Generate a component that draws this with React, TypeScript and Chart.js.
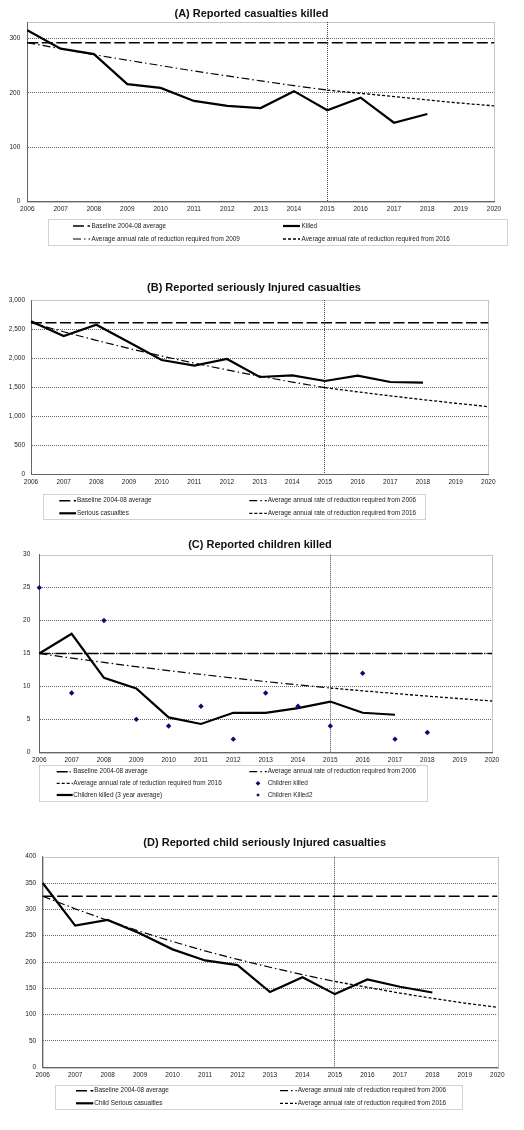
import React, { useEffect, useRef } from "react";
import { Chart, registerables } from "chart.js";

Chart.register(...registerables);
Chart.defaults.font.family = '"Liberation Sans", Arial, sans-serif';

const YEARS = ["2006", "2007", "2008", "2009", "2010", "2011", "2012", "2013", "2014", "2015", "2016", "2017", "2018", "2019", "2020"];
const MARK_YEAR = "2015";

// (A) Reported casualties killed
const A_Y_TICKS = [0, 100, 200, 300];
const A_KILLED = [315, 281, 271, 216, 209, 185, 176, 172, 203, 168, 191, 145, 161, null, null];
const A_BASELINE = [292, 292, 292, 292, 292, 292, 292, 292, 292, 292, 292, 292, 292, 292, 292];
const A_TARGET_2009 = [292, 281, 270, 260, 250, 240, 231, 222, 213, 205, null, null, null, null, null];
const A_TARGET_2016 = [null, null, null, null, null, null, null, null, null, 205, 199, 193, 187, 181, 176];

// (B) Reported seriously injured casualties
const B_Y_TICKS = [0, 500, 1000, 1500, 2000, 2500, 3000];
const B_SERIOUS = [2633, 2380, 2575, 2272, 1967, 1870, 1985, 1675, 1703, 1606, 1698, 1589, 1577, null, null];
const B_BASELINE = [2610, 2610, 2610, 2610, 2610, 2610, 2610, 2610, 2610, 2610, 2610, 2610, 2610, 2610, 2610];
const B_TARGET_2006 = [2610, 2453, 2305, 2166, 2035, 1913, 1797, 1689, 1587, 1491, null, null, null, null, null];
const B_TARGET_2016 = [null, null, null, null, null, null, null, null, null, 1491, 1419, 1350, 1285, 1223, 1164];

// (C) Reported children killed
const C_Y_TICKS = [0, 5, 10, 15, 20, 25, 30];
const C_KILLED = [25, 9, 20, 5, 4, 7, 2, 9, 7, 4, 12, 2, null, null, null];
const C_KILLED2 = [null, null, null, null, null, null, null, null, null, null, null, null, 3, null, null];
const C_AVG3 = [15, 18, 11.3, 9.7, 5.3, 4.3, 6, 6, 6.7, 7.7, 6, 5.7, null, null, null];
const C_BASELINE = [15, 15, 15, 15, 15, 15, 15, 15, 15, 15, 15, 15, 15, 15, 15];
const C_TARGET_2006 = [15, 14.3, 13.64, 13.0, 12.4, 11.82, 11.27, 10.74, 10.24, 9.76, null, null, null, null, null];
const C_TARGET_2016 = [null, null, null, null, null, null, null, null, null, 9.76, 9.33, 8.92, 8.53, 8.15, 7.79];

// (D) Reported child seriously injured casualties
const D_Y_TICKS = [0, 50, 100, 150, 200, 250, 300, 350, 400];
const D_SERIOUS = [350, 269, 280, 254, 224, 203, 194, 143, 171, 139, 167, 153, 142, null, null];
const D_BASELINE = [325, 325, 325, 325, 325, 325, 325, 325, 325, 325, 325, 325, 325, 325, 325];
const D_TARGET_2006 = [325, 301, 279, 258, 239, 221, 205, 190, 176, 163, null, null, null, null, null];
const D_TARGET_2016 = [null, null, null, null, null, null, null, null, null, 163, 152, 141, 131, 122, 114];

const BASELINE_LABEL = "Baseline 2004-08 average";
const RATE_2006 = "Average annual rate of reduction required from 2006";
const RATE_2009 = "Average annual rate of reduction required from 2009";
const RATE_2016 = "Average annual rate of reduction required from 2016";

const main = (label: string, data: any[]) => ({
  label, data, borderColor: "#000", backgroundColor: "#000", borderWidth: 2.2,
  pointRadius: 0, tension: 0, fill: false,
});
const baseline = (label: string, data: any[], dash = [11, 3.5]) => ({
  label, data, borderColor: "#000", backgroundColor: "#000", borderWidth: 1.5,
  borderDash: dash, pointRadius: 0, tension: 0, fill: false,
});
const dashDot = (label: string, data: any[]) => ({
  label, data, borderColor: "#000", backgroundColor: "#000", borderWidth: 1.2,
  borderDash: [8, 3, 1.5, 3], pointRadius: 0, tension: 0, fill: false,
});
const dotted = (label: string, data: any[]) => ({
  label, data, borderColor: "#000", backgroundColor: "#000", borderWidth: 1.3,
  borderDash: [3, 2], pointRadius: 0, tension: 0, fill: false,
});
const markers = (label: string, data: any[]) => ({
  label, data, showLine: false, pointStyle: "rectRot", pointRadius: 2.7,
  backgroundColor: "#0b0b70", borderColor: "#0b0b70", borderWidth: 0,
});

type Spec = {
  top: number; height: number; title: string; titleX: number; titleY: number;
  plot: { l: number; t: number; r: number; b: number };
  yMax: number; yTicks: number[]; tickPad: number; datasets: any[];
  legend: { box: number[]; rows: number[]; cols: number[][]; items: any[][] };
};

const SPECS: Spec[] = [
  {
    top: 0, height: 250, title: "(A) Reported casualties killed", titleX: 251.5, titleY: 14,
    plot: { l: 27.3, t: 22, r: 494, b: 201.7 }, yMax: 330, yTicks: A_Y_TICKS, tickPad: 7,
    datasets: [
      main("Killed", A_KILLED),
      baseline(BASELINE_LABEL, A_BASELINE),
      dashDot(RATE_2009, A_TARGET_2009),
      dotted(RATE_2016, A_TARGET_2016),
    ],
    legend: {
      box: [48, 219, 507, 245], rows: [226, 239],
      cols: [[73, 90, 91.5], [283, 300, 301.5]],
      items: [[1, 0, 0], [0, 1, 0], [2, 0, 1], [3, 1, 1]],
    },
  },
  {
    top: 250, height: 275, title: "(B) Reported seriously Injured casualties", titleX: 254, titleY: 38.3,
    plot: { l: 31, t: 50, r: 488.3, b: 224.3 }, yMax: 3000, yTicks: B_Y_TICKS, tickPad: 6,
    datasets: [
      main("Serious casualties", B_SERIOUS),
      baseline(BASELINE_LABEL, B_BASELINE),
      dashDot(RATE_2006, B_TARGET_2006),
      dotted(RATE_2016, B_TARGET_2016),
    ],
    legend: {
      box: [43.3, 244.3, 425, 269.3], rows: [250.7, 263.3],
      cols: [[59.3, 76, 77], [249.3, 266.7, 267.7]],
      items: [[1, 0, 0], [2, 1, 0], [0, 0, 1], [3, 1, 1]],
    },
  },
  {
    top: 525, height: 285, title: "(C) Reported children killed", titleX: 260, titleY: 20,
    plot: { l: 39.3, t: 29.7, r: 492, b: 227.3 }, yMax: 30, yTicks: C_Y_TICKS, tickPad: 9,
    datasets: [
      markers("Children killed", C_KILLED),
      markers("Children Killed2", C_KILLED2),
      main("Children killed (3 year average)", C_AVG3),
      baseline(BASELINE_LABEL, C_BASELINE, [11, 2, 1, 2]),
      dashDot(RATE_2006, C_TARGET_2006),
      dotted(RATE_2016, C_TARGET_2016),
    ],
    legend: {
      box: [39.3, 240, 427.3, 275.7], rows: [246.7, 258.3, 270],
      cols: [[56.7, 72.7, 73.3], [249.3, 266.7, 267.7]],
      items: [[3, 0, 0], [4, 1, 0], [5, 0, 1], [0, 1, 1], [2, 0, 2], [1, 1, 2, "small"]],
    },
  },
  {
    top: 810, height: 320, title: "(D) Reported child seriously Injured casualties", titleX: 264.7, titleY: 33.3,
    plot: { l: 42.7, t: 46.7, r: 497.3, b: 257.3 }, yMax: 400, yTicks: D_Y_TICKS, tickPad: 6.5,
    datasets: [
      main("Child Serious casualties", D_SERIOUS),
      baseline(BASELINE_LABEL, D_BASELINE),
      dashDot(RATE_2006, D_TARGET_2006),
      dotted(RATE_2016, D_TARGET_2016),
    ],
    legend: {
      box: [55, 275, 461.7, 299], rows: [280.7, 293.3],
      cols: [[76, 93.3, 94.3], [280, 296.7, 297.7]],
      items: [[1, 0, 0], [2, 1, 0], [0, 0, 1], [3, 1, 1]],
    },
  },
];

const W = 524;
const Y_W = 24;
const X_H = 14;
const FONT_FAMILY = '"Liberation Sans", Arial, sans-serif';

function Panel({ spec }: { spec: Spec }) {
  const ref = useRef<HTMLCanvasElement>(null);
  useEffect(() => {
    const canvas = ref.current!;
    const { plot, height } = spec;
    const markIndex = YEARS.indexOf(MARK_YEAR);
    const overlay = {
      id: "overlay",
      beforeDraw(chart: any) {
        const ctx = chart.ctx;
        const a = chart.chartArea;
        ctx.save();
        ctx.strokeStyle = "#c4c4c4";
        ctx.lineWidth = 1;
        ctx.strokeRect(Math.round(a.left) + 0.5, Math.round(a.top) + 0.5, Math.round(a.right - a.left), Math.round(a.bottom - a.top));
        ctx.restore();
      },
      afterDraw(chart: any) {
        const ctx = chart.ctx;
        ctx.save();
        ctx.fillStyle = "#111";
        ctx.font = `bold 11px ${FONT_FAMILY}`;
        ctx.textAlign = "center";
        ctx.textBaseline = "middle";
        ctx.fillText(spec.title, spec.titleX, spec.titleY);

        const lg = spec.legend;
        const [x1, y1, x2, y2] = lg.box;
        ctx.strokeStyle = "#d2d2d2";
        ctx.lineWidth = 1;
        ctx.strokeRect(Math.round(x1) + 0.5, Math.round(y1) + 0.5, Math.round(x2 - x1), Math.round(y2 - y1));
        ctx.font = `6.4px ${FONT_FAMILY}`;
        ctx.textAlign = "left";
        for (const item of lg.items) {
          const [dsi, col, row, flag] = item;
          const ds = chart.data.datasets[dsi];
          const y = lg.rows[row];
          const [sx, ex, tx] = lg.cols[col];
          if (ds.showLine === false) {
            const r = flag === "small" ? 1.8 : 2.4;
            const cx = (sx + ex) / 2;
            ctx.fillStyle = ds.backgroundColor;
            ctx.beginPath();
            ctx.moveTo(cx, y - r);
            ctx.lineTo(cx + r, y);
            ctx.lineTo(cx, y + r);
            ctx.lineTo(cx - r, y);
            ctx.closePath();
            ctx.fill();
          } else {
            ctx.strokeStyle = ds.borderColor;
            ctx.lineWidth = ds.borderWidth;
            ctx.setLineDash(ds.borderDash || []);
            ctx.beginPath();
            ctx.moveTo(sx, y);
            ctx.lineTo(ex, y);
            ctx.stroke();
            ctx.setLineDash([]);
          }
          ctx.fillStyle = "#222";
          ctx.fillText(ds.label, tx, y);
        }
        ctx.restore();
      },
    };
    const chart = new Chart(canvas, {
      type: "line",
      data: { labels: YEARS, datasets: spec.datasets },
      options: {
        responsive: false,
        animation: false,
        devicePixelRatio: 1,
        events: [],
        layout: {
          padding: { left: plot.l - Y_W, top: plot.t, right: W - plot.r, bottom: height - plot.b - X_H },
        },
        plugins: {
          legend: { display: false },
          title: { display: false },
          tooltip: { enabled: false },
        },
        scales: {
          x: {
            type: "category",
            offset: false,
            grid: {
              drawTicks: false,
              lineWidth: 1,
              color: (c: any) => (c.index === markIndex ? "#444" : "rgba(0,0,0,0)"),
            },
            border: { display: true, color: "#666", width: 1, dash: [1, 1] },
            ticks: { autoSkip: false, maxRotation: 0, minRotation: 0, padding: 4, color: "#222", font: { size: 6.5 } },
            afterFit: (s: any) => { s.height = X_H; },
          },
          y: {
            min: 0,
            max: spec.yMax,
            grid: {
              drawTicks: false,
              lineWidth: 1,
              color: (c: any) => (c.tick && c.tick.value > 0 && c.tick.value < spec.yMax ? "#666" : "rgba(0,0,0,0)"),
            },
            border: { display: true, color: "#666", width: 1, dash: [1, 1] },
            ticks: {
              padding: spec.tickPad,
              color: "#222",
              font: { size: 6.5 },
              callback: (v: any) => Number(v).toLocaleString("en-US"),
            },
            afterBuildTicks: (s: any) => { s.ticks = spec.yTicks.map((v) => ({ value: v })); },
            afterFit: (s: any) => { s.width = Y_W; },
          },
        },
      } as any,
      plugins: [overlay],
    });
    return () => chart.destroy();
  }, [spec]);
  return (
    <canvas
      ref={ref}
      width={W}
      height={spec.height}
      style={{ position: "absolute", left: 0, top: spec.top, width: W, height: spec.height }}
    />
  );
}

export default function App() {
  return (
    <div style={{ position: "absolute", left: 0, top: 0, width: W, height: 1130, background: "#fff" }}>
      {SPECS.map((s, i) => (
        <Panel key={i} spec={s} />
      ))}
    </div>
  );
}
